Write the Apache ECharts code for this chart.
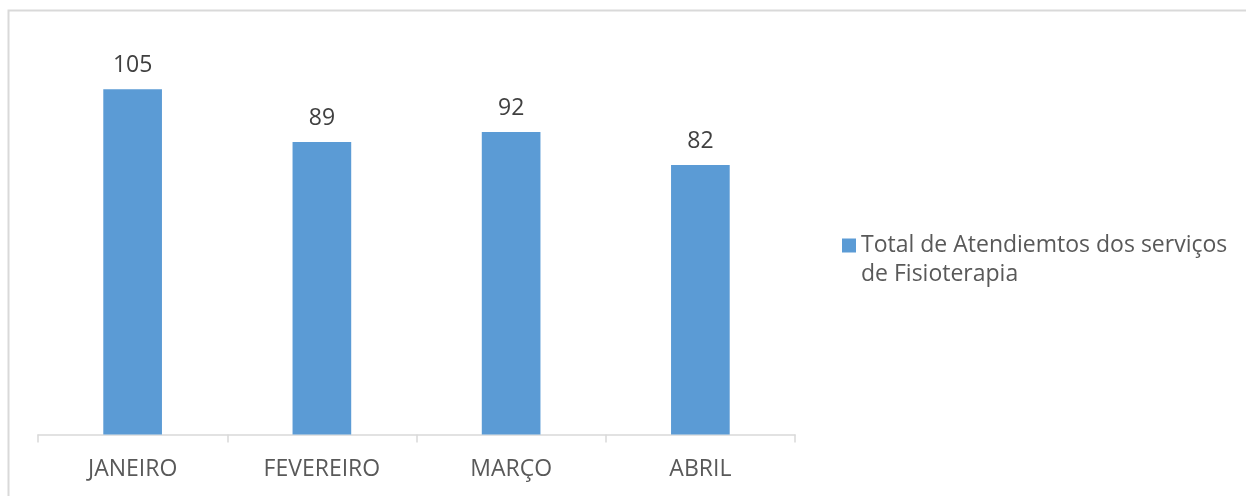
<!DOCTYPE html>
<html>
<head>
<meta charset="utf-8">
<script src="https://cdn.jsdelivr.net/npm/echarts@6/dist/echarts.min.js"></script>
<style>html,body{margin:0;padding:0;background:#fff;}#c{width:1246px;height:496px;}</style>
</head>
<body>
<div id="c"></div>
<script>
var categories = ['JANEIRO', 'FEVEREIRO', 'MARÇO', 'ABRIL'];
var seriesName = 'Total de Atendiemtos dos serviços de Fisioterapia';
var legendLines = ['Total de Atendiemtos dos serviços', 'de Fisioterapia'];
var values = [105, 89, 92, 82];

var FONT = 'Open Sans';
var chart = echarts.init(document.getElementById('c'), null, {renderer: 'canvas'});
chart.setOption({
  animation: false,
  backgroundColor: '#fff',
  graphic: [{
    type: 'rect', silent: true, z: -1,
    shape: {x: 8.5, y: 10.5, width: 1400, height: 700},
    style: {fill: 'none', stroke: '#d9d9d9', lineWidth: 2}
  }],
  grid: {left: 38, right: 451, top: 40, bottom: 61.5, containLabel: false},
  legend: {
    left: 837, top: 197,
    orient: 'vertical',
    itemWidth: 14, itemHeight: 14, itemGap: 0,
    icon: 'rect',
    formatter: function (n) { return ' \n' + legendLines.join('\n'); },
    textStyle: {fontFamily: FONT, fontSize: 23, color: '#595959', lineHeight: 29}
  },
  xAxis: {
    type: 'category', data: categories,
    axisLine: {lineStyle: {color: '#d9d9d9', width: 1.5}},
    axisTick: {show: true, length: 8, alignWithLabel: false, lineStyle: {color: '#d9d9d9', width: 1.5}},
    axisLabel: {fontFamily: FONT, fontSize: 23, color: '#595959', margin: 23}
  },
  yAxis: {
    type: 'value', min: 0, max: 120, show: false,
    splitLine: {show: false}
  },
  series: [{
    name: seriesName, type: 'bar', data: values,
    barWidth: '31%',
    itemStyle: {color: '#5b9bd5'},
    label: {show: true, position: 'top', distance: 12, fontFamily: FONT, fontSize: 23, color: '#404040'}
  }]
});
</script>
</body>
</html>
